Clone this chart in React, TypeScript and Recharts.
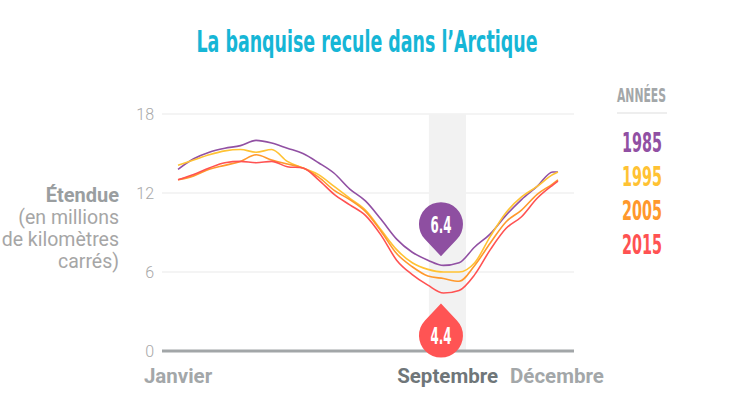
import React from "react";
import {
  LineChart,
  Line,
  XAxis,
  YAxis,
  CartesianGrid,
  ReferenceArea,
  ReferenceDot,
} from "recharts";

// day of the year for each reading
const days = [0, 15, 30, 45, 60, 75, 90, 105, 120, 135, 150, 165, 180, 195, 210, 225, 240, 255, 270, 285, 300, 315, 330, 345, 360, 365];

// sea ice extent, millions of km²
const ice1985 = [13.8, 14.6, 15.1, 15.4, 15.6, 16.0, 15.8, 15.4, 15.0, 14.3, 13.5, 12.3, 11.4, 10.0, 8.5, 7.5, 6.9, 6.5, 6.7, 7.9, 8.9, 10.3, 11.5, 12.5, 13.6, 13.6];
const ice1995 = [14.1, 14.5, 14.9, 15.2, 15.3, 15.1, 15.3, 14.4, 13.9, 13.4, 12.5, 11.6, 10.7, 9.2, 7.7, 6.7, 6.2, 6.0, 6.0, 6.7, 8.7, 10.5, 11.7, 12.5, 13.4, 13.6];
const ice2005 = [13.0, 13.3, 13.8, 14.1, 14.4, 14.9, 14.5, 14.2, 13.9, 13.2, 12.2, 11.5, 10.6, 9.1, 7.4, 6.4, 5.7, 5.5, 5.3, 6.5, 8.2, 9.8, 10.7, 11.9, 12.7, 13.0];
const ice2015 = [13.0, 13.4, 13.9, 14.3, 14.4, 14.3, 14.4, 14.0, 13.9, 13.0, 11.9, 11.1, 10.3, 8.8, 6.9, 5.8, 5.0, 4.4, 4.6, 5.8, 7.7, 9.3, 10.2, 11.6, 12.6, 12.9];

const years = ["1985", "1995", "2005", "2015"];
const colors = ["#9150a3", "#ffc233", "#ff982c", "#ff5252"];

const yTicks = [0, 6, 12, 18];
const xTickDays = [0, 259, 364];
const xTickLabels = ["Janvier", "Septembre", "Décembre"];

const septemberBand = [241, 276.6];
const minDay = 252.6;
const min1985 = 6.4;
const min2015 = 4.4;

const data = days.map((day, i) => ({
  day,
  y1985: ice1985[i],
  y1995: ice1995[i],
  y2005: ice2005[i],
  y2015: ice2015[i],
}));

const condensed = "'Liberation Sans Narrow', 'DejaVu Sans Condensed', Roboto, sans-serif";

const XTick = (props: any) => {
  const { x, y, payload } = props;
  const idx = xTickDays.indexOf(payload.value);
  const isSept = idx === 1;
  return (
    <text
      x={x}
      y={y + 24}
      textAnchor="middle"
      fontFamily="Roboto, sans-serif"
      fontWeight={700}
      fontSize={20.5}
      fill={isSept ? "#6f7679" : "#a3a7a9"}
    >
      {xTickLabels[idx]}
    </text>
  );
};

// teardrop marker, tail pointing at the curve
const makePin = (color: string, label: string, tailDown: boolean) => (props: any) => {
  const { cx, cy } = props;
  const r = 22;
  const d = 32;
  const off = 10.5;
  const tipY = tailDown ? cy - off : cy + off;
  const c = tailDown ? tipY - d : tipY + d;
  const cosA = r / d;
  const sinA = Math.sqrt(1 - cosA * cosA);
  const s = tailDown ? 1 : -1;
  const py = c + s * r * cosA;
  const path = `M ${cx} ${tipY} L ${cx + r * sinA} ${py} A ${r} ${r} 0 1 ${tailDown ? 0 : 1} ${cx - r * sinA} ${py} Z`;
  return (
    <g>
      <path d={path} fill={color} />
      <text
        x={cx}
        y={c + 8.5}
        textAnchor="middle"
        fontFamily={condensed}
        fontWeight={700}
        fontSize={23}
        textLength={21}
        lengthAdjust="spacingAndGlyphs"
        fill="#ffffff"
      >
        {label}
      </text>
    </g>
  );
};

const App = () => {
  return (
    <div style={{ position: "absolute", left: 0, top: 0, width: 736, height: 414, background: "#fff" }}>
      <LineChart
        width={736}
        height={414}
        data={data}
        margin={{ top: 114, right: 162, bottom: 23, left: 122 }}
      >
        <CartesianGrid vertical={false} stroke="#f0f0f0" strokeWidth={1.5} />
        <ReferenceArea
          x1={septemberBand[0]}
          x2={septemberBand[1]}
          fill="#f2f2f2"
          fillOpacity={1}
          stroke="none"
        />
        <XAxis
          dataKey="day"
          type="number"
          domain={[-15.4, 380.4]}
          ticks={xTickDays}
          tick={<XTick />}
          tickLine={false}
          axisLine={{ stroke: "#a2a6a8", strokeWidth: 3 }}
          height={40}
          interval={0}
        />
        <YAxis
          type="number"
          domain={[0, 18]}
          ticks={yTicks}
          width={40}
          axisLine={false}
          tickLine={false}
          tick={{ fill: "#a8a8a8", fontSize: 16, fontFamily: "Roboto, sans-serif", fontWeight: 300 }}
        />
        <Line dataKey="y1985" stroke={colors[0]} strokeWidth={1.6} dot={false} type="monotone" isAnimationActive={false} />
        <Line dataKey="y1995" stroke={colors[1]} strokeWidth={1.6} dot={false} type="monotone" isAnimationActive={false} />
        <Line dataKey="y2005" stroke={colors[2]} strokeWidth={1.6} dot={false} type="monotone" isAnimationActive={false} />
        <Line dataKey="y2015" stroke={colors[3]} strokeWidth={1.6} dot={false} type="monotone" isAnimationActive={false} />
        <ReferenceDot x={minDay} y={min1985} shape={makePin("#8e4fa1", String(min1985), true)} />
        <ReferenceDot x={minDay} y={min2015} shape={makePin("#ff5454", String(min2015), false)} />
      </LineChart>

      <svg
        width={736}
        height={414}
        style={{ position: "absolute", left: 0, top: 0, pointerEvents: "none" }}
      >
        <text
          x={367}
          y={52}
          textAnchor="middle"
          fontFamily={condensed}
          fontWeight={700}
          fontSize={31}
          textLength={341}
          lengthAdjust="spacingAndGlyphs"
          fill="#16b6d6"
        >
          La banquise recule dans l’Arctique
        </text>

        <g fontFamily="Roboto, sans-serif" textAnchor="end">
          <text x={119} y={202} fontWeight={700} fontSize={20} fill="#9a9ea0">Étendue</text>
          <text x={119} y={224} fontSize={19.5} fill="#a6a6a6">(en millions</text>
          <text x={119} y={246} fontSize={19.5} fill="#a6a6a6">de kilomètres</text>
          <text x={119} y={268} fontSize={19.5} fill="#a6a6a6">carrés)</text>
        </g>

        <text
          x={617}
          y={102}
          fontFamily={condensed}
          fontWeight={700}
          fontSize={20}
          textLength={49}
          lengthAdjust="spacingAndGlyphs"
          fill="#a3a7a9"
        >
          ANNÉES
        </text>
        <line x1={617} x2={667} y1={113} y2={113} stroke="#eeeeee" strokeWidth={2} />
        {years.map((yr, i) => (
          <text
            key={yr}
            x={622}
            y={152 + i * 34}
            fontFamily={condensed}
            fontWeight={700}
            fontSize={27}
            textLength={40}
            lengthAdjust="spacingAndGlyphs"
            fill={colors[i]}
          >
            {yr}
          </text>
        ))}
      </svg>
    </div>
  );
};

export default App;
